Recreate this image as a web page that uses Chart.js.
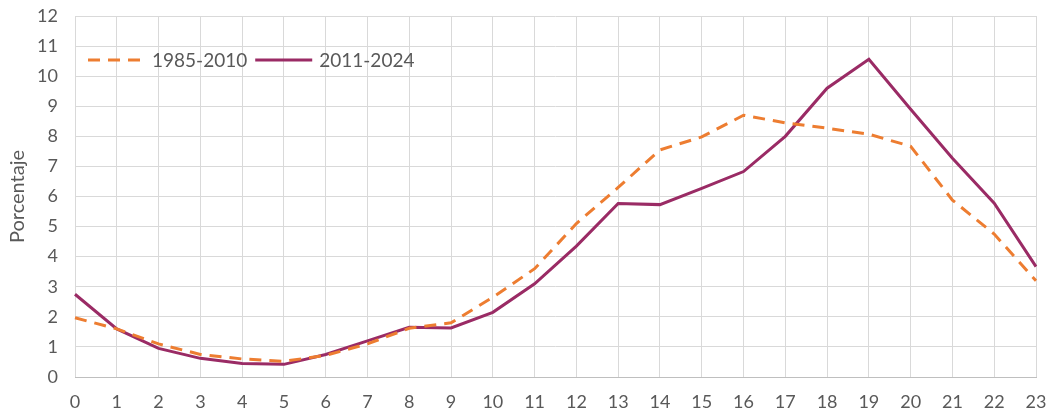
<!DOCTYPE html>
<html>
<head>
<meta charset="utf-8">
<script src="https://cdn.jsdelivr.net/npm/chart.js@4/dist/chart.umd.min.js"></script>
<style>
  html, body { margin: 0; padding: 0; background: #fff; }
  #wrap { width: 1051px; height: 412px; position: relative; }
</style>
</head>
<body>
<div id="wrap"><canvas id="main-chart"></canvas></div>
<script>
// hours of the day
let hours = ['0','1','2','3','4','5','6','7','8','9','10','11','12','13','14','15','16','17','18','19','20','21','22','23']

// porcentaje por hora
let serie1985 = [1.97, 1.6, 1.1, 0.75, 0.6, 0.52, 0.72, 1.1, 1.62, 1.8, 2.65, 3.6, 5.1, 6.3, 7.55, 7.98, 8.7, 8.45, 8.27, 8.07, 7.67, 5.88, 4.75, 3.2]
let serie2011 = [2.75, 1.6, 0.95, 0.62, 0.45, 0.42, 0.75, 1.2, 1.65, 1.63, 2.15, 3.1, 4.35, 5.77, 5.73, 6.27, 6.83, 8.0, 9.6, 10.56, 8.9, 7.27, 5.78, 3.67]

let labels = ['1985-2010', '2011-2024']
let yMin = 0
let yMax = 12

let textColor = '#595959'
let gridColor = '#d9d9d9'
let fontFamily = 'Lato, "Open Sans", sans-serif'

// legend drawn inside the plot area, like the original
let insideLegend = {
  id: 'insideLegend',
  afterDraw(chart) {
    let ctx = chart.ctx
    let area = chart.chartArea
    let x = area.left + 13
    let y = area.top + 44
    ctx.save()
    ctx.font = '19px ' + fontFamily
    ctx.textBaseline = 'middle'
    chart.data.datasets.forEach(function(ds) {
      ctx.strokeStyle = ds.borderColor
      ctx.lineWidth = ds.borderWidth
      ctx.setLineDash(ds.borderDash || [])
      ctx.beginPath()
      ctx.moveTo(x, y)
      ctx.lineTo(x + 57, y)
      ctx.stroke()
      ctx.setLineDash([])
      ctx.fillStyle = textColor
      ctx.fillText(ds.label, x + 64, y + 1)
      x = x + 64 + ctx.measureText(ds.label).width + 8
    })
    ctx.restore()
  }
}

let source = document.getElementById('main-chart')

let repChart = new Chart(source, {
  type: 'line',
  data: {
    labels: hours,
    datasets: [{
      label: labels[0],
      data: serie1985,
      borderColor: '#ed7d31',
      borderWidth: 3,
      borderDash: [12, 8],
      pointRadius: 0,
      tension: 0,
      fill: false
    }, {
      label: labels[1],
      data: serie2011,
      borderColor: '#9a2b65',
      borderWidth: 3,
      pointRadius: 0,
      tension: 0,
      fill: false
    }]
  },
  options: {
    responsive: true,
    maintainAspectRatio: false,
    animation: false,
    devicePixelRatio: 1,
    layout: {
      padding: { left: 0, right: 15, top: 16, bottom: 0 }
    },
    plugins: {
      legend: { display: false },
      tooltip: { enabled: false }
    },
    scales: {
      x: {
        offset: false,
        grid: { color: gridColor, drawTicks: false },
        border: { color: '#bfbfbf' },
        ticks: {
          color: textColor,
          padding: 14,
          maxRotation: 0,
          autoSkip: false,
          font: { family: fontFamily, size: 18 }
        },
        afterFit: function(scale) {
          scale.height = 35
          scale.paddingLeft = 0
          scale.paddingRight = 0
        }
      },
      y: {
        min: yMin,
        max: yMax,
        grid: { color: gridColor, drawTicks: false },
        border: { display: false },
        ticks: {
          stepSize: 1,
          color: textColor,
          padding: 17,
          font: { family: fontFamily, size: 18 }
        },
        title: {
          display: true,
          text: 'Porcentaje',
          color: textColor,
          padding: { top: 6, bottom: 0 },
          font: { family: fontFamily, size: 20 }
        },
        afterFit: function(scale) {
          scale.width = 75
          scale.paddingTop = 0
          scale.paddingBottom = 0
        }
      }
    }
  },
  plugins: [insideLegend]
})
</script>
</body>
</html>
